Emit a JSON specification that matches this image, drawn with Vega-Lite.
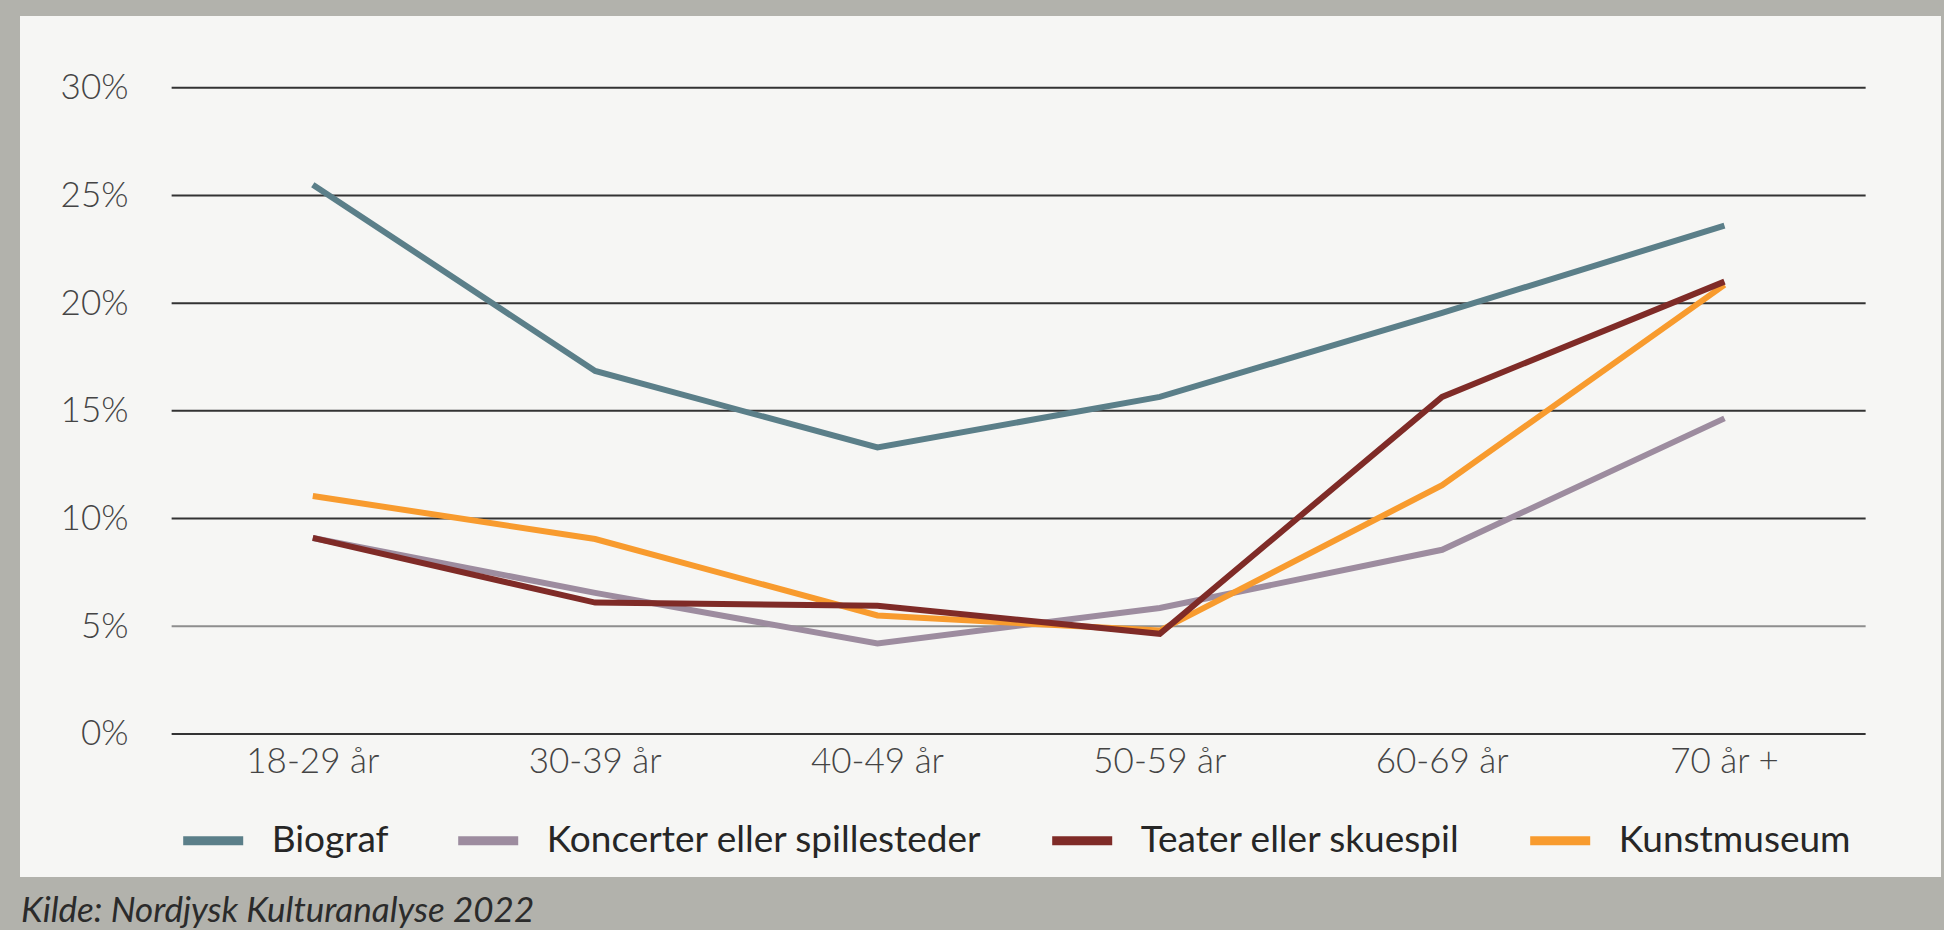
{
  "$schema": "https://vega.github.io/schema/vega-lite/v6.json",
  "width": 1921,
  "height": 861,
  "autosize": {"type": "none"},
  "padding": {"left": 20, "top": 16, "right": 3, "bottom": 53},
  "background": "#b2b2ac",
  "config": {"view": {"fill": "#f6f6f4", "stroke": null}, "font": "Lato"},
  "title": {
    "text": "Kilde: Nordjysk Kulturanalyse 2022",
    "orient": "bottom",
    "anchor": "start",
    "frame": "group",
    "baseline": "alphabetic",
    "offset": 45,
    "font": "Lato",
    "fontSize": 35,
    "fontStyle": "italic",
    "fontWeight": "normal",
    "color": "#2b2b2b",
    "dx": 1
  },
  "datasets": {
    "grid": [{"v": 0}, {"v": 0.05}, {"v": 0.1}, {"v": 0.15}, {"v": 0.2}, {"v": 0.25}, {"v": 0.3}],
    "series": [
      {"serie": "Koncerter eller spillesteder", "age": "18-29 år", "value": 0.091},
      {"serie": "Koncerter eller spillesteder", "age": "30-39 år", "value": 0.0655},
      {"serie": "Koncerter eller spillesteder", "age": "40-49 år", "value": 0.042},
      {"serie": "Koncerter eller spillesteder", "age": "50-59 år", "value": 0.0585},
      {"serie": "Koncerter eller spillesteder", "age": "60-69 år", "value": 0.0855},
      {"serie": "Koncerter eller spillesteder", "age": "70 år +", "value": 0.1465},
      {"serie": "Kunstmuseum", "age": "18-29 år", "value": 0.1105},
      {"serie": "Kunstmuseum", "age": "30-39 år", "value": 0.0905},
      {"serie": "Kunstmuseum", "age": "40-49 år", "value": 0.055},
      {"serie": "Kunstmuseum", "age": "50-59 år", "value": 0.048},
      {"serie": "Kunstmuseum", "age": "60-69 år", "value": 0.1155},
      {"serie": "Kunstmuseum", "age": "70 år +", "value": 0.2085},
      {"serie": "Biograf", "age": "18-29 år", "value": 0.255},
      {"serie": "Biograf", "age": "30-39 år", "value": 0.1685},
      {"serie": "Biograf", "age": "40-49 år", "value": 0.133},
      {"serie": "Biograf", "age": "50-59 år", "value": 0.1565},
      {"serie": "Biograf", "age": "60-69 år", "value": 0.1955},
      {"serie": "Biograf", "age": "70 år +", "value": 0.236},
      {"serie": "Teater eller skuespil", "age": "18-29 år", "value": 0.091},
      {"serie": "Teater eller skuespil", "age": "30-39 år", "value": 0.061},
      {"serie": "Teater eller skuespil", "age": "40-49 år", "value": 0.0595},
      {"serie": "Teater eller skuespil", "age": "50-59 år", "value": 0.0465},
      {"serie": "Teater eller skuespil", "age": "60-69 år", "value": 0.1565},
      {"serie": "Teater eller skuespil", "age": "70 år +", "value": 0.21}
    ]
  },
  "layer": [
    {
      "data": {"name": "grid"},
      "mark": {"type": "rule", "strokeWidth": 2},
      "encoding": {
        "x": {
          "datum": "18-29 år",
          "type": "nominal",
          "bandPosition": 0,
          "scale": {"type": "band", "domain": ["18-29 år", "30-39 år", "40-49 år", "50-59 år", "60-69 år", "70 år +"], "paddingInner": 0, "paddingOuter": 0.402, "align": 0.668},
          "axis": {"title": null, "offset": -143, "labelPadding": 10, "ticks": false, "tickSize": 0, "domain": false, "grid": false, "labelAngle": 0, "labelFont": "Lato", "labelFontSize": 35, "labelFontWeight": 300, "labelColor": "#444444"}
        },
        "x2": {"datum": "70 år +", "bandPosition": 1},
        "y": {
          "field": "v",
          "type": "quantitative",
          "scale": {"domain": [-0.0664, 0.3333], "nice": false, "zero": false},
          "axis": {"title": null, "values": [0, 0.05, 0.1, 0.15, 0.2, 0.25, 0.3], "format": ".0%", "offset": -108, "labelPadding": 0, "ticks": false, "tickSize": 0, "domain": false, "grid": false, "labelFont": "Lato", "labelFontSize": 35, "labelFontWeight": 300, "labelColor": "#444444"}
        },
        "color": {"condition": {"test": "datum.v == 0.05", "value": "#8e8e8e"}, "value": "#333333"}
      }
    },
    {
      "data": {"name": "series"},
      "mark": {"type": "line", "strokeWidth": 6},
      "encoding": {
        "x": {
          "field": "age",
          "type": "nominal",
          "scale": {"type": "band", "domain": ["18-29 år", "30-39 år", "40-49 år", "50-59 år", "60-69 år", "70 år +"], "paddingInner": 0, "paddingOuter": 0.402, "align": 0.668},
          "axis": {"title": null, "offset": -143, "labelPadding": 10, "ticks": false, "tickSize": 0, "domain": false, "grid": false, "labelAngle": 0, "labelFont": "Lato", "labelFontSize": 35, "labelFontWeight": 300, "labelColor": "#444444"}
        },
        "y": {
          "field": "value",
          "type": "quantitative",
          "scale": {"domain": [-0.0664, 0.3333], "nice": false, "zero": false},
          "axis": {"title": null, "values": [0, 0.05, 0.1, 0.15, 0.2, 0.25, 0.3], "format": ".0%", "offset": -108, "labelPadding": 0, "ticks": false, "tickSize": 0, "domain": false, "grid": false, "labelFont": "Lato", "labelFontSize": 35, "labelFontWeight": 300, "labelColor": "#444444"}
        },
        "color": {
          "field": "serie",
          "type": "nominal",
          "scale": {
            "domain": ["Biograf", "Koncerter eller spillesteder", "Teater eller skuespil", "Kunstmuseum"],
            "range": ["#5b7f89", "#9d8c9f", "#7f2b27", "#f89b2e"]
          },
          "legend": {
            "orient": "none",
            "legendX": 158.7,
            "legendY": 790,
            "direction": "horizontal",
            "title": null,
            "symbolType": "stroke",
            "symbolSize": 3600,
            "symbolStrokeWidth": 9,
            "labelFont": "Lato",
            "labelFontSize": 37,
            "labelColor": "#262626",
            "labelOffset": 24,
            "labelLimit": 700,
            "columnPadding": 51,
            "padding": 0
          }
        }
      }
    }
  ]
}
